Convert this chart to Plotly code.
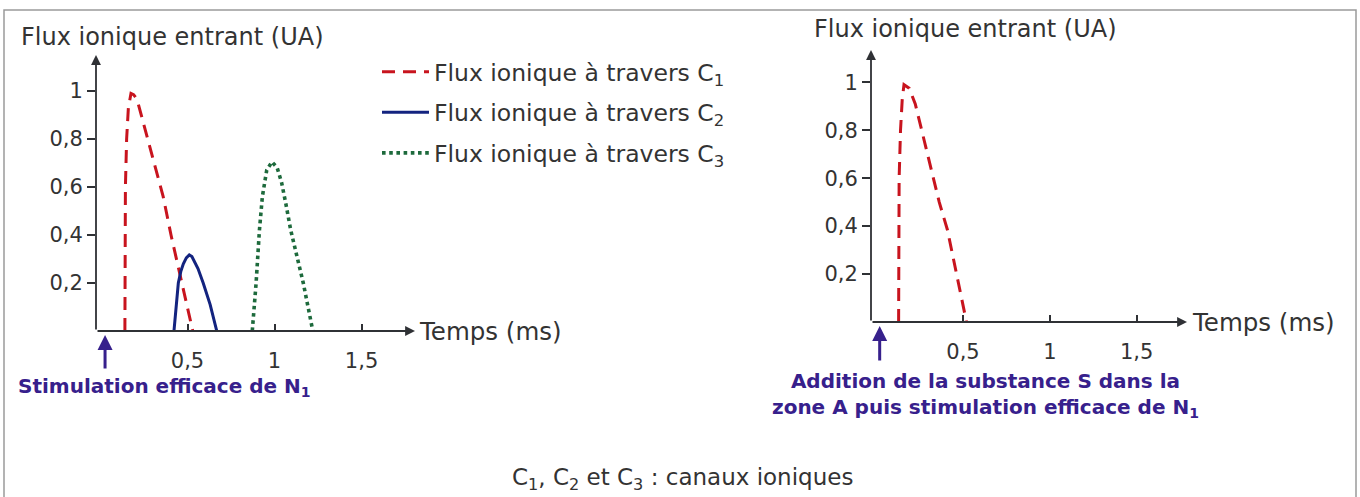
import plotly.graph_objects as go

# ---------------- data ----------------
# Left chart: C1, C2, C3 ionic flux (time in ms, flux in UA)
t_c1 = [0.14, 0.143, 0.15, 0.16, 0.175, 0.19, 0.21, 0.25, 0.30, 0.36, 0.405, 0.46, 0.53]
f_c1 = [0.0, 0.6, 0.8, 0.93, 0.99, 0.985, 0.965, 0.86, 0.72, 0.56, 0.40, 0.22, 0.0]

t_c2 = [0.422, 0.435, 0.447, 0.462, 0.476, 0.493, 0.51, 0.525, 0.56, 0.59, 0.63, 0.668]
f_c2 = [0.0, 0.10, 0.20, 0.25, 0.28, 0.305, 0.317, 0.31, 0.26, 0.20, 0.11, 0.0]

t_c3 = [0.872, 0.894, 0.913, 0.93, 0.955, 0.985, 1.015, 1.04, 1.065, 1.093, 1.165, 1.22]
f_c3 = [0.0, 0.20, 0.42, 0.56, 0.67, 0.705, 0.68, 0.62, 0.53, 0.42, 0.20, 0.0]

# Right chart: C1 after substance S
t_c1s = [0.129, 0.132, 0.14, 0.15, 0.16, 0.19, 0.225, 0.31, 0.363, 0.41, 0.52]
f_c1s = [0.0, 0.6, 0.8, 0.93, 0.99, 0.975, 0.91, 0.66, 0.50, 0.385, 0.0]

# stimulation times (ms)
t_stim_left = 0.026
t_stim_right = 0.02

x_tickvals = [0.5, 1, 1.5]
x_ticktext = ["0,5", "1", "1,5"]
y_tickvals = [0.2, 0.4, 0.6, 0.8, 1.0]
y_ticktext = ["0,2", "0,4", "0,6", "0,8", "1"]

names = ["Flux ionique à travers C<sub>1</sub>",
         "Flux ionique à travers C<sub>2</sub>",
         "Flux ionique à travers C<sub>3</sub>"]

# ---------------- styling ----------------
W, H = 1360, 497
RED, BLUE, GREEN = "#c8141e", "#13237f", "#1d6a3c"
AX = "#2f3135"
TXT = "#333333"
ANN = "#37208c"
FONT = "DejaVu Sans"


def px(x):
    return x / W


def py(y):
    return 1 - y / H


fig = go.Figure()
fig.add_trace(go.Scatter(x=t_c1, y=f_c1, mode="lines", name=names[0], legendgroup="c1",
                         line=dict(color=RED, width=3, dash="13px,8px"), xaxis="x", yaxis="y"))
fig.add_trace(go.Scatter(x=t_c2, y=f_c2, mode="lines", name=names[1], legendgroup="c2",
                         line=dict(color=BLUE, width=3), xaxis="x", yaxis="y"))
fig.add_trace(go.Scatter(x=t_c3, y=f_c3, mode="lines", name=names[2], legendgroup="c3",
                         line=dict(color=GREEN, width=3.6, dash="dot"), xaxis="x", yaxis="y"))
fig.add_trace(go.Scatter(x=t_c1s, y=f_c1s, mode="lines", name=names[0], legendgroup="c1",
                         showlegend=False,
                         line=dict(color=RED, width=3, dash="13px,8px"), xaxis="x2", yaxis="y2"))

# axis geometry (pixels)
L = dict(x0=96, x1=415, y0=331, y1=55, xr=(-0.026, 1.807), yr=(0, 1.15))
R = dict(x0=871, x1=1187, y0=322, y1=50, xr=(-0.03, 1.79), yr=(0, 1.135))

tickfont = dict(family=FONT, size=21, color=TXT)


def xaxis_cfg(g, anchor):
    return dict(domain=[px(g["x0"]), px(g["x1"])], range=list(g["xr"]), anchor=anchor,
                tickvals=x_tickvals, ticktext=x_ticktext, ticks="inside", ticklen=7,
                tickwidth=1.5, tickcolor=AX, showline=False, showgrid=False, zeroline=False,
                tickfont=tickfont, ticklabelstandoff=15, fixedrange=True)


def yaxis_cfg(g, anchor):
    return dict(domain=[py(g["y0"]), py(g["y1"])], range=list(g["yr"]), anchor=anchor,
                tickvals=y_tickvals, ticktext=y_ticktext, ticks="outside", ticklen=8,
                tickwidth=1.5, tickcolor=AX, showline=False, showgrid=False, zeroline=False,
                tickfont=tickfont, fixedrange=True)


annotations = []
for xa, ya, g in (("x", "y", L), ("x2", "y2", R)):
    # x axis with arrow
    annotations.append(dict(x=g["xr"][1], y=0, ax=g["xr"][0], ay=0, xref=xa, yref=ya,
                            axref=xa, ayref=ya, showarrow=True, arrowhead=2, arrowsize=1.1,
                            arrowwidth=1.8, arrowcolor=AX, standoff=0, text=""))
    # y axis with arrow
    annotations.append(dict(x=g["xr"][0], y=g["yr"][1], ax=g["xr"][0], ay=0, xref=xa, yref=ya,
                            axref=xa, ayref=ya, showarrow=True, arrowhead=2, arrowsize=1.1,
                            arrowwidth=1.8, arrowcolor=AX, standoff=0, text=""))

# axis titles
annotations += [
    dict(x=px(19), y=py(37), xref="paper", yref="paper", xanchor="left", yanchor="middle",
         text="Flux ionique entrant (UA)", showarrow=False, font=dict(family=FONT, size=24, color=TXT)),
    dict(x=px(812), y=py(29), xref="paper", yref="paper", xanchor="left", yanchor="middle",
         text="Flux ionique entrant (UA)", showarrow=False, font=dict(family=FONT, size=24, color=TXT)),
    dict(x=px(417), y=py(331), xref="paper", yref="paper", xanchor="left", yanchor="middle",
         text="Temps (ms)", showarrow=False, font=dict(family=FONT, size=24.5, color=TXT)),
    dict(x=px(1190), y=py(322), xref="paper", yref="paper", xanchor="left", yanchor="middle",
         text="Temps (ms)", showarrow=False, font=dict(family=FONT, size=24.5, color=TXT)),
]

# stimulation arrows (tip just below the time axis)
annotations += [
    dict(x=t_stim_left, y=py(335), xref="x", yref="paper", ax=0, ay=35, axref="pixel", ayref="pixel",
         showarrow=True, arrowhead=2, arrowsize=1.0, arrowwidth=3, arrowcolor=ANN, standoff=0, text=""),
    dict(x=t_stim_right, y=py(326), xref="x2", yref="paper", ax=0, ay=36, axref="pixel", ayref="pixel",
         showarrow=True, arrowhead=2, arrowsize=1.0, arrowwidth=3, arrowcolor=ANN, standoff=0, text=""),
]

annotations += [
    dict(x=px(16), y=py(387), xref="paper", yref="paper", xanchor="left", yanchor="middle",
         text="<b>Stimulation efficace de N<sub>1</sub></b>", showarrow=False,
         font=dict(family=FONT, size=20, color=ANN)),
    dict(x=px(985), y=py(395), xref="paper", yref="paper", xanchor="center", yanchor="middle",
         text="<b>Addition de la substance S dans la<br>zone A puis stimulation efficace de N<sub>1</sub></b>",
         showarrow=False, align="center", font=dict(family=FONT, size=20, color=ANN)),
    dict(x=px(682), y=py(479), xref="paper", yref="paper", xanchor="center", yanchor="middle",
         text="C<sub>1</sub>, C<sub>2</sub> et C<sub>3</sub> : canaux ioniques", showarrow=False,
         font=dict(family=FONT, size=23, color=TXT)),
]

fig.update_layout(
    width=W, height=H, margin=dict(l=0, r=0, t=0, b=0),
    paper_bgcolor="white", plot_bgcolor="rgba(0,0,0,0)",
    xaxis=xaxis_cfg(L, "y"), yaxis=yaxis_cfg(L, "x"),
    xaxis2=xaxis_cfg(R, "y2"), yaxis2=yaxis_cfg(R, "x2"),
    showlegend=True,
    legend=dict(x=px(377), y=py(50), xanchor="left", yanchor="top", bgcolor="rgba(0,0,0,0)",
                font=dict(family=FONT, size=23.5, color=TXT), itemwidth=47,
                traceorder="grouped", tracegroupgap=7),
    annotations=annotations,
    shapes=[dict(type="rect", xref="paper", yref="paper", x0=px(4), x1=px(1356),
                 y0=-0.05, y1=py(10), line=dict(color="#9a9a9a", width=1.5))],
)

fig.write_html("out.html", config={"displayModeBar": False},
               post_script="document.body.style.margin='0';")
